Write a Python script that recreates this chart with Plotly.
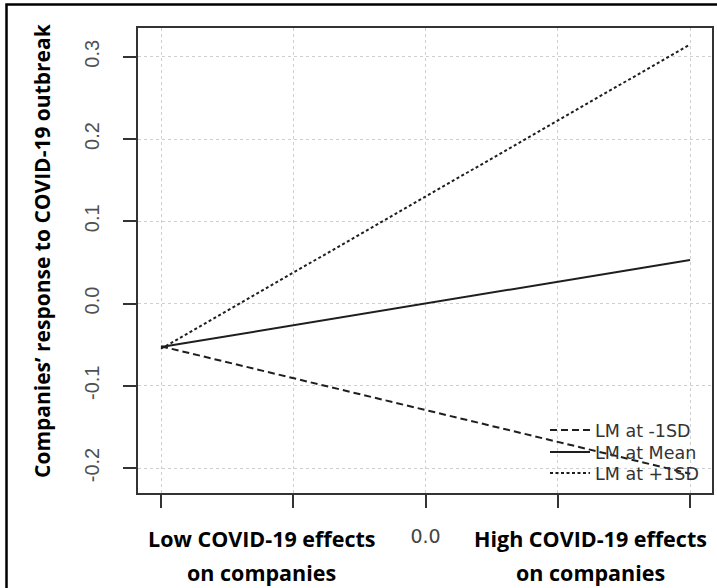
import plotly.graph_objects as go

# ---- data ----
x_levels = [-2, 2]                      # moderator-plot x endpoints
lm_minus_1sd = [-0.052, -0.207]
lm_mean = [-0.053, 0.053]
lm_plus_1sd = [-0.055, 0.315]
series_names = ["LM at -1SD", "LM at Mean", "LM at +1SD"]

x_tickvals = [-2, -1, 0, 1, 2]
x_ticktext = ["", "", "0.0", "", ""]
y_tickvals = [-0.2, -0.1, 0.0, 0.1, 0.2, 0.3]
y_ticktext = ["-0.2", "-0.1", "0.0", "0.1", "0.2", "0.3"]

x_low_label = ["Low COVID-19 effects", "on companies"]
x_high_label = ["High COVID-19 effects", "on companies"]
y_title = "Companies’ response to COVID-19 outbreak"

W, H = 717, 588
L, R, T, B = 138, 5, 28, 95
PW, PH = W - L - R, H - T - B


def px_x(p):
    return (p - L) / PW


def px_y(p):
    return (H - B - p) / PH


line_col = "#1e1e1e"
styles = ["7px,4px", "solid", "3px,2.5px"]
values = [lm_minus_1sd, lm_mean, lm_plus_1sd]
legend_ids = ["legend", "legend2", "legend3"]

fig = go.Figure()
for name, vals, dash, lid in zip(series_names, values, styles, legend_ids):
    fig.add_trace(go.Scatter(x=x_levels, y=vals, mode="lines", name=name, legend=lid,
                             line=dict(color=line_col, width=2, dash=dash)))

axis_common = dict(
    showline=True, mirror=True, linecolor="#333333", linewidth=2,
    ticks="outside", ticklen=13, tickwidth=1.5, tickcolor="#333333",
    showgrid=True, gridcolor="#cfcfcf", griddash="dot", gridwidth=1,
    zeroline=False,
)

leg_font = dict(family="DejaVu Sans", size=17.5, color="#333333")
row_y = [430, 452, 473]
leg_common = dict(x=px_x(545), xanchor="left", yanchor="middle",
                  bgcolor="rgba(0,0,0,0)", borderwidth=0, itemwidth=40, font=leg_font)

fig.update_layout(
    width=W, height=H,
    margin=dict(l=L, r=R, t=T, b=B, autoexpand=False),
    paper_bgcolor="white", plot_bgcolor="white",
    xaxis=dict(range=[-2.174, 2.166], tickvals=x_tickvals, ticktext=x_ticktext,
               tickfont=dict(family="DejaVu Sans", size=19, color="#444444"),
               ticklabelstandoff=12, **axis_common),
    yaxis=dict(range=[-0.2304, 0.335], tickvals=y_tickvals, ticktext=y_ticktext,
               tickangle=-90,
               tickfont=dict(family="Liberation Sans", size=20, color="#505050"),
               ticklabelstandoff=16, **axis_common),
    showlegend=True,
    legend=dict(y=px_y(row_y[0]), **leg_common),
    legend2=dict(y=px_y(row_y[1]), **leg_common),
    legend3=dict(y=px_y(row_y[2]), **leg_common),
)

bold = dict(family="Open Sans", size=21.5, color="black", weight="bold")
annos = []
for lines, cx in ((x_low_label, 261), (x_high_label, 590)):
    for txt, cy in zip(lines, (538, 572)):
        annos.append(dict(text=txt, x=px_x(cx), y=px_y(cy), xref="paper", yref="paper",
                          xanchor="center", yanchor="middle", showarrow=False, font=bold))
annos.append(dict(text=y_title, x=px_x(42), y=px_y(251), xref="paper", yref="paper",
                  xanchor="center", yanchor="middle", textangle=-90, showarrow=False,
                  font=dict(family="Open Sans", size=21, color="black", weight="bold")))
fig.update_layout(annotations=annos)

# outer frame of the figure
fig.add_shape(type="rect", xref="paper", yref="paper",
              x0=px_x(6.5), x1=px_x(725), y0=px_y(600), y1=px_y(4.5),
              line=dict(color="black", width=2.5), fillcolor="rgba(0,0,0,0)", layer="above")

fig.write_html(
    "out.html",
    config={"displayModeBar": False},
    post_script="document.body.style.margin='0';document.body.style.overflow='hidden';",
)
